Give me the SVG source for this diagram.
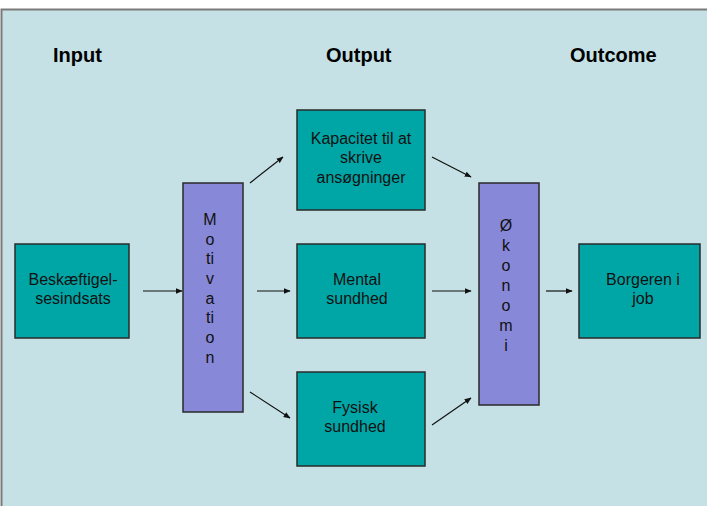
<svg xmlns="http://www.w3.org/2000/svg" width="707" height="506" viewBox="0 0 707 506">
<style>
.hdr{font-family:"Liberation Sans",Arial,sans-serif;font-weight:bold;font-size:20px;fill:#000}
.t{font-family:"Liberation Sans",Arial,sans-serif;font-size:16px;fill:#111;text-anchor:middle}
.box{fill:#00A6A6;stroke:#2a2a2a;stroke-width:1.5}
.bar{fill:#8888D8;stroke:#2a2a2a;stroke-width:1.5}
.c{stroke:#111;stroke-width:1.2;fill:none;marker-end:url(#ah)}
</style>
<defs>
<marker id="ah" viewBox="0 0 10 10" refX="9" refY="5" markerWidth="7" markerHeight="7" markerUnits="userSpaceOnUse" orient="auto">
<path d="M0,1 L10,5 L0,9 z" fill="#111"/>
</marker>
</defs>
<rect x="0" y="0" width="707" height="506" fill="#fff"/>
<rect x="1.5" y="9.5" width="710" height="500" fill="#C5E1E5" stroke="#7a7a7a" stroke-width="2"/>
<g id="headers">
<text class="hdr" x="53" y="62">Input</text>
<text class="hdr" x="326" y="62">Output</text>
<text class="hdr" x="570" y="62">Outcome</text>
</g>
<g id="connectors">
<line class="c" x1="143" y1="291" x2="182" y2="291"/>
<line class="c" x1="250" y1="183" x2="283" y2="157"/>
<line class="c" x1="257" y1="291" x2="290" y2="291"/>
<line class="c" x1="250" y1="392" x2="290" y2="418"/>
<line class="c" x1="432" y1="157" x2="471" y2="177"/>
<line class="c" x1="432" y1="291" x2="471" y2="291"/>
<line class="c" x1="432" y1="425" x2="471" y2="398"/>
<line class="c" x1="546" y1="291" x2="572" y2="291"/>
</g>
<g id="beskaeftigelsesindsats">
<rect class="box" x="15" y="244" width="114" height="94"/>
<text class="t" x="73" y="285">Beskæftigel-</text>
<text class="t" x="73" y="304">sesindsats</text>
</g>
<g id="motivation">
<rect class="bar" x="183" y="183" width="60" height="229"/>
<text class="t" x="210" y="225">M</text>
<text class="t" x="210" y="245">o</text>
<text class="t" x="210" y="264">ti</text>
<text class="t" x="210" y="284">v</text>
<text class="t" x="210" y="304">a</text>
<text class="t" x="210" y="323">ti</text>
<text class="t" x="210" y="343">o</text>
<text class="t" x="210" y="363">n</text>
</g>
<g id="kapacitet">
<rect class="box" x="297" y="110" width="128" height="100"/>
<text class="t" x="361" y="144">Kapacitet til at</text>
<text class="t" x="361" y="163">skrive</text>
<text class="t" x="361" y="183">ansøgninger</text>
</g>
<g id="mental">
<rect class="box" x="297" y="244" width="128" height="94"/>
<text class="t" x="357" y="285">Mental</text>
<text class="t" x="357" y="304">sundhed</text>
</g>
<g id="fysisk">
<rect class="box" x="297" y="372" width="128" height="94"/>
<text class="t" x="355" y="413">Fysisk</text>
<text class="t" x="355" y="432">sundhed</text>
</g>
<g id="oekonomi">
<rect class="bar" x="479" y="183" width="60" height="222"/>
<text class="t" x="506" y="231">Ø</text>
<text class="t" x="506" y="251">k</text>
<text class="t" x="506" y="271">o</text>
<text class="t" x="506" y="291">n</text>
<text class="t" x="506" y="311">o</text>
<text class="t" x="506" y="331">m</text>
<text class="t" x="506" y="351">i</text>
</g>
<g id="borgeren">
<rect class="box" x="579" y="244" width="121" height="94"/>
<text class="t" x="643" y="285">Borgeren i</text>
<text class="t" x="643" y="304">job</text>
</g>
</svg>
